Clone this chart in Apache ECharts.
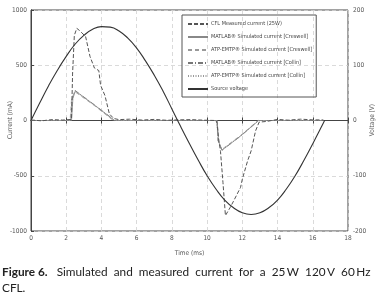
<!DOCTYPE html>
<html>
<head>
<meta charset="utf-8">
<script src="https://cdn.jsdelivr.net/npm/echarts@6/dist/echarts.min.js"></script>
<style>
html,body{margin:0;padding:0;background:#fff;}
#chart{width:382px;height:296px;}
</style>
</head>
<body>
<div id="chart"></div>
<script>
// time ticks
var timeTicks=[0,2,4,6,8,10,12,14,16,18];

// CFL measured current (mA)
var tMeas=[0,0.6,1.2,1.8,2.3,2.36,2.46,2.6,2.75,3.1,3.35,3.6,3.85,3.95,4.2,4.45,4.7,5,5.6,6.3,7,7.7,8.4,9.1,9.8,10.5,10.57,10.65,10.76,10.9,11.04,11.3,11.5,11.9,12.0,12.3,12.5,12.75,12.95,13.4,14,14.6,15.3,16,16.6];
var iMeas=[5,-3,8,4,10,420,770,834,815,760,580,475,452,320,225,60,18,8,12,4,10,2,6,8,3,0,-25,-160,-280,-560,-860,-790,-730,-605,-530,-365,-275,-95,-15,-8,10,3,12,6,5];

// MATLAB simulated current [Creswell]
var tMatCre=[0,2.3,2.38,2.52,3.6,4.6,4.75,10.57,10.65,10.85,11.9,12.93,16.6];
var iMatCre=[0,0,200,268,140,18,0,0,-190,-268,-140,0,0];
// ATP-EMTP simulated current [Creswell]
var tAtpCre=[0,2.22,2.3,2.48,3.6,4.55,4.7,10.55,10.62,10.83,11.9,12.9,16.6];
var iAtpCre=[0,0,190,262,135,15,0,0,-180,-262,-135,0,0];
// MATLAB simulated current [Collin]
var tMatCol=[0,2.26,2.34,2.5,3.6,4.6,4.72,10.56,10.63,10.84,11.9,12.92,16.6];
var iMatCol=[0,0,195,272,142,20,0,0,-185,-270,-142,0,0];
// ATP-EMTP simulated current [Collin]
var tAtpCol=[0,2.24,2.32,2.49,3.6,4.58,4.72,10.55,10.62,10.84,11.9,12.9,16.6];
var iAtpCol=[0,0,185,265,138,16,0,0,-182,-265,-138,0,0];

// source voltage (V)
var tVolt=[0,0.5,1,1.5,2,2.5,3,3.5,4,4.5,5,5.5,6,6.5,7,7.5,8,8.5,9,9.5,10,10.5,11,11.5,12,12.5,13,13.5,14,14.5,15,15.5,16,16.5,16.67];
var vVolt=[0,32,63,91,116,138,154,165,170,169,162,149,131,108,82,53,21,-11,-42,-72,-100,-124,-144,-158,-167,-170,-167,-158,-144,-124,-100,-72,-42,-11,0];

function pairs(t,v){
	var out=[];
	for(var i=0;i<t.length;i++){
		out.push([t[i],v[i]]);
	}
	return out;
}

var narrow='Liberation Sans Narrow, DejaVu Sans Condensed, sans-serif';
var axisFont={fontSize:6.5,color:'#555',fontFamily:narrow};
function plain(v){return String(v);}

var option={
	animation:false,
	grid:{left:31,right:34,top:10,bottom:65,show:true,borderColor:'#444',borderWidth:1,backgroundColor:'transparent',
		containLabel:false,outerBoundsMode:'none'},
	legend:{
		orient:'vertical',
		left:182,top:15,
		itemWidth:20,itemHeight:6,itemGap:7,
		padding:[6,4,5,5],
		borderColor:'#555',borderWidth:1,
		itemStyle:{opacity:0},
		textStyle:{fontSize:5.5,color:'#444',padding:[0,0,0,-2],fontFamily:narrow},
		data:['CFL Measured current (25W)','MATLAB® Simulated current [Creswell]','ATP-EMTP® Simulated current [Creswell]','MATLAB® Simulated current [Collin]','ATP-EMTP® Simulated current [Collin]','Source voltage']
	},
	xAxis:[{
		type:'value',min:0,max:18,interval:2,
		name:'Time (ms)',nameLocation:'middle',nameGap:19,
		nameTextStyle:axisFont,
		axisLine:{lineStyle:{color:'#444'}},
		axisTick:{show:true,inside:true,length:3,lineStyle:{color:'#444'}},
		axisLabel:Object.assign({margin:4,formatter:plain},axisFont),
		splitLine:{show:true,lineStyle:{type:[4,3],color:'#d0d0d0',width:0.8}}
	},{
		type:'value',min:0,max:18,interval:2,position:'top',
		axisLine:{lineStyle:{color:'#444'}},
		axisTick:{show:true,inside:true,length:3,lineStyle:{color:'#444'}},
		axisLabel:{show:false},splitLine:{show:false}
	}],
	yAxis:[{
		type:'value',min:-1000,max:1000,interval:500,
		axisLine:{show:true,lineStyle:{color:'#444'}},
		axisTick:{show:true,inside:true,length:3,lineStyle:{color:'#444'}},
		axisLabel:Object.assign({margin:4,formatter:plain},axisFont),
		splitLine:{show:true,lineStyle:{type:[4,3],color:'#d0d0d0',width:0.8}}
	},{
		type:'value',min:-200,max:200,interval:100,position:'right',
		axisLine:{show:true,lineStyle:{color:'#444'}},
		axisTick:{show:true,inside:false,length:3,lineStyle:{color:'#444'}},
		axisLabel:Object.assign({margin:5,formatter:plain},axisFont),
		splitLine:{show:false}
	}],
	series:[
		{name:'CFL Measured current (25W)',type:'line',symbol:'none',data:pairs(tMeas,iMeas),color:'#555',
		 lineStyle:{color:'#555',width:1,type:[4,2]},z:5},
		{name:'MATLAB® Simulated current [Creswell]',type:'line',symbol:'none',data:pairs(tMatCre,iMatCre),color:'#888',
		 lineStyle:{color:'#888',width:0.8}},
		{name:'ATP-EMTP® Simulated current [Creswell]',type:'line',symbol:'none',data:pairs(tAtpCre,iAtpCre),color:'#999',
		 lineStyle:{color:'#999',width:0.8,type:[4,3]}},
		{name:'MATLAB® Simulated current [Collin]',type:'line',symbol:'none',data:pairs(tMatCol,iMatCol),color:'#777',
		 lineStyle:{color:'#777',width:0.8,type:[5,2,1,2]}},
		{name:'ATP-EMTP® Simulated current [Collin]',type:'line',symbol:'none',data:pairs(tAtpCol,iAtpCol),color:'#999',
		 lineStyle:{color:'#999',width:0.8,type:[1,1.5]}},
		{name:'Source voltage',type:'line',symbol:'none',yAxisIndex:1,smooth:true,data:pairs(tVolt,vVolt),color:'#333',
		 lineStyle:{color:'#333',width:1.1},z:6}
	],
	graphic:[
		// axis names
		{type:'text',x:10,y:120,rotation:Math.PI/2,style:{text:'Current (mA)',fill:'#555',
			font:'6.5px '+narrow,align:'center',verticalAlign:'middle'}},
		{type:'text',x:372,y:120,rotation:Math.PI/2,style:{text:'Voltage (V)',fill:'#555',
			font:'6.5px '+narrow,align:'center',verticalAlign:'middle'}},
		{type:'text',left:2,top:266,style:{
			text:'{b|Figure 6.}   Simulated  and  measured  current  for  a  25\u2009W  120\u2009V  60\u2009Hz',
			fill:'#222',font:'11.8px Lato, "Open Sans", sans-serif',
			rich:{b:{fontWeight:'bold',fontSize:11.8,fontFamily:'Lato, "Open Sans", sans-serif',fill:'#222'}}
		}},
		{type:'text',left:2,top:282,style:{text:'CFL.',fill:'#222',font:'11.8px Lato, "Open Sans", sans-serif'}}
	]
};

var mychart=echarts.init(document.getElementById('chart'));
mychart.setOption(option);
</script>
</body>
</html>
